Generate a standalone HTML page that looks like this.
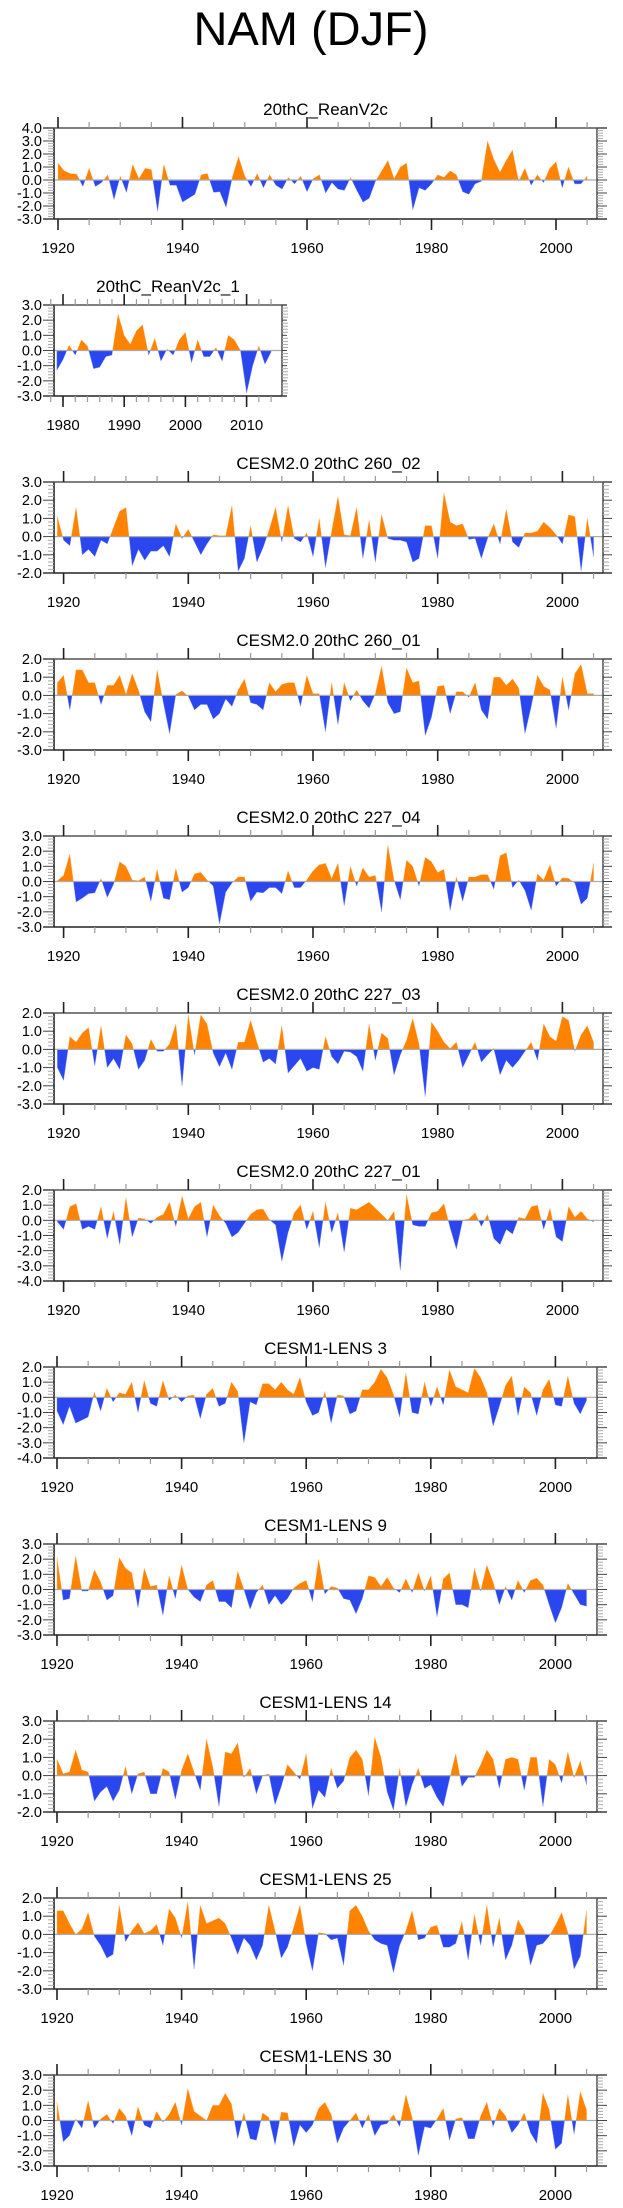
<!DOCTYPE html>
<html><head><meta charset="utf-8">
<style>
html,body{margin:0;padding:0;background:#fff;}
svg{display:block;font-family:"Liberation Sans",Arial,sans-serif;}
</style></head>
<body>
<svg id="chart" width="623" height="2208" viewBox="0 0 623 2208" xmlns="http://www.w3.org/2000/svg">
<text x="311" y="45" font-size="47" text-anchor="middle" fill="#000">NAM (DJF)</text>
</svg>
<script>
const titles = ["20thC_ReanV2c","20thC_ReanV2c_1","CESM2.0 20thC 260_02","CESM2.0 20thC 260_01","CESM2.0 20thC 227_04","CESM2.0 20thC 227_03","CESM2.0 20thC 227_01","CESM1-LENS 3","CESM1-LENS 9","CESM1-LENS 14","CESM1-LENS 25","CESM1-LENS 30"];
const startYears = [1920,1979,1919,1919,1919,1919,1919,1920,1920,1920,1920,1920];
const yMax = [4,3,3,2,3,2,2,2,3,3,2,3];
const yMin = [-3,-3,-2,-3,-3,-3,-4,-4,-3,-2,-3,-3];
const rean = [1.3,0.7,0.5,0.45,-0.5,0.9,-0.5,-0.2,0.4,-1.5,0.3,-0.95,1.2,0.1,0.9,0.8,-2.4,1.2,-0.4,-0.4,-1.7,-1.4,-1.1,0.4,0.5,-0.95,-0.9,-2.1,0.2,1.8,0.3,-0.5,0.5,-0.6,0.4,-0.4,-0.7,0.2,-0.3,0.3,-0.9,0.1,0.4,-1.0,-0.2,-0.7,-0.8,0.2,-0.8,-1.7,-1.4,-0.1,0.7,1.5,0.1,1.0,1.3,-2.3,-0.6,-0.8,-0.3,0.4,0.2,0.7,0.4,-0.9,-1.1,-0.3,-0.1,3.0,1.6,0.6,1.5,2.3,-0.1,0.9,-0.4,0.4,-0.2,0.9,1.4,-0.6,1.0,-0.3,-0.3,0.3];
const rean1 = [-1.3,-0.6,0.35,-0.3,0.7,0.3,-1.2,-1.1,-0.4,-0.3,2.4,1.0,0.4,1.3,1.7,-0.3,0.8,-0.7,0.1,-0.3,0.7,1.2,-0.8,0.7,-0.4,-0.4,0.2,-0.7,1.0,0.7,0.0,-2.8,-1.0,0.3,-0.9,-0.1];
const c260_02 = [1.1,-0.2,-0.5,1.6,-1.0,-0.7,-1.1,-0.2,-0.4,0.5,1.4,1.6,-1.6,-0.7,-1.3,-0.8,-0.8,-0.5,-1.1,0.7,-0.1,0.4,-0.3,-1.0,-0.4,0.1,0.05,0.05,1.7,-1.9,-1.2,0.6,-1.4,-0.6,0.4,1.6,-0.3,1.7,-0.1,-0.3,0.2,-1.1,1.0,-1.7,0.3,2.2,0.1,0.05,1.6,-1.2,0.9,-1.4,1.2,-0.1,-0.2,-0.2,-0.3,-1.4,-1.2,0.6,0.6,-1.2,2.4,0.8,0.6,0.7,-0.15,-0.1,-1.2,-0.1,0.7,-0.4,1.5,-0.3,-0.6,0.2,0.2,0.3,0.8,0.5,0.1,-0.4,1.2,1.1,-1.9,1.0,-1.1];
const c260_01 = [0.7,1.1,-0.8,1.4,1.4,0.7,0.7,-0.5,0.55,0.55,1.1,0.05,1.2,0.3,-0.9,-1.45,1.4,-0.4,-2.1,0.05,0.25,-0.05,-0.8,-0.5,-0.5,-1.3,-1.0,-0.2,-0.6,0.3,0.9,-0.4,-0.5,-0.8,0.7,0.2,0.6,0.7,0.7,-0.6,1.1,0.1,0.1,-2.0,0.7,-1.6,0.7,-0.3,0.3,-0.3,-0.7,0.1,1.6,-0.4,-1.0,-0.9,1.5,0.7,0.8,-2.2,-1.2,0.5,0.55,-1.0,0.2,0.2,-0.1,0.7,-0.8,-1.3,1.0,1.0,0.55,0.9,0.4,-2.1,-0.6,1.1,0.5,0.3,-1.8,1.0,-0.8,1.2,1.7,0.1,0.1];
const c227_04 = [0.05,0.4,1.8,-1.35,-1.1,-0.8,-0.75,0.2,-1.05,-0.2,1.3,1.0,0.1,0.05,0.3,-1.3,0.8,-1.1,-1.2,0.85,-0.7,-0.4,0.5,0.6,0.1,-0.3,-2.8,-0.7,-0.1,0.3,0.3,-1.3,-0.7,-0.75,-0.4,-0.4,-0.8,0.7,-0.4,-0.4,0.1,0.7,1.1,1.2,0.2,1.2,-1.6,1.0,-0.3,0.9,0.3,0.4,-2.0,2.4,0.1,-1.2,1.4,1.0,-0.3,1.6,1.3,0.6,0.8,-1.9,0.3,-1.3,0.3,0.3,0.45,0.45,-0.5,1.7,1.9,-0.4,0.1,-0.6,-1.9,0.5,0.1,1.1,-0.3,0.25,0.2,-0.1,-1.5,-1.1,1.2];
const c227_03 = [-1.0,-1.7,0.7,0.4,0.9,1.2,-0.9,1.3,-1.0,-0.5,-1.1,0.8,0.3,-1.1,-0.6,0.55,-0.1,-0.1,0.3,1.4,-2.0,1.9,-0.3,1.9,1.4,-0.2,-0.95,-0.2,-1.1,0.4,0.4,1.6,0.4,-0.7,-0.5,-0.8,1.3,-1.3,-0.9,-0.5,-1.2,-1.0,-1.1,0.7,-0.4,-0.8,-0.1,-0.15,-0.4,-1.2,1.4,-0.6,0.9,0.6,-1.4,-0.3,0.5,1.7,0.3,-2.6,1.5,1.0,0.4,0.05,0.4,-1.0,-0.3,0.4,-0.7,-0.3,0.05,-1.4,-0.6,-1.0,-0.6,-0.1,0.4,-0.6,1.4,0.7,0.45,1.8,1.6,-0.1,0.8,1.3,0.4];
const c227_01 = [-0.1,-0.6,0.9,1.1,-0.6,-0.4,-0.6,0.9,-1.2,0.6,-1.6,1.5,-1.1,0.15,0.1,-0.2,0.2,0.4,1.2,-0.4,1.6,0.1,0.9,1.2,-1.1,1.0,0.3,-0.2,-1.1,-0.8,-0.2,0.4,0.7,0.75,0.05,-0.3,-2.7,-0.8,0.5,1.0,-0.6,0.6,-1.8,1.2,-0.8,0.5,-2.1,0.8,0.7,0.95,1.2,0.8,0.4,0.0,0.6,-3.3,1.7,-0.3,-0.4,-0.4,0.5,0.6,1.1,-0.5,-1.9,0.0,0.1,0.5,-0.4,0.4,-1.2,-1.6,-0.6,-0.9,0.2,0.1,0.9,1.0,-0.6,0.8,-1.1,-1.4,0.9,0.2,0.6,0.1,-0.1];
const lens3 = [-0.9,-1.8,-0.6,-1.7,-1.5,-1.3,0.35,-0.9,0.6,-0.3,0.3,0.2,1.0,-1.0,1.1,-0.4,-0.6,1.1,-0.2,0.15,-0.3,0.1,0.15,-1.4,0.2,0.6,-0.6,-0.4,1.0,0.4,-3.0,-0.3,-0.5,0.9,0.9,0.5,1.0,0.5,0.2,1.3,-0.3,-1.2,-1.0,0.4,-1.7,0.15,0.1,-1.1,-0.9,0.5,0.5,1.0,1.85,1.3,0.2,-1.3,1.6,-1.0,-1.1,1.0,-0.6,0.7,-0.5,1.8,0.7,0.5,0.3,1.9,1.3,0.3,-1.9,-0.6,0.8,1.4,-1.2,0.7,0.3,-1.2,0.5,1.2,-0.5,-0.6,1.4,-0.4,-1.1,-0.2];
const lens9 = [2.1,-0.7,-0.6,2.2,-0.1,-0.1,1.3,0.5,-0.7,-0.4,2.1,1.4,1.1,-1.2,1.4,0.2,0.3,-1.7,0.9,-0.6,1.6,0.0,-0.5,-0.8,0.3,0.6,-0.8,-0.8,-1.2,1.2,0.0,-1.3,-0.2,0.3,-1.0,-0.4,-1.0,-0.6,0.1,0.4,0.6,-0.8,2.0,-0.3,0.2,0.1,-0.6,-0.7,-1.6,-0.6,0.9,0.8,0.2,0.8,0.1,-0.2,0.7,-0.2,1.1,-0.1,0.9,-1.8,0.7,1.1,-1.0,-1.0,-1.2,1.4,-0.1,1.6,0.5,-1.0,0.2,-0.7,0.6,-0.2,0.6,0.75,0.3,-1.0,-2.2,-1.2,0.4,-0.3,-1.0,-1.1];
const lens14 = [0.9,0.1,0.2,1.4,0.3,0.2,-1.4,-0.9,-0.6,-1.4,-0.8,0.5,-1.0,0.1,0.2,-1.0,-1.0,0.4,0.2,-1.3,0.3,1.2,0.2,-0.8,2.0,0.5,-1.7,1.3,1.2,1.8,-0.1,0.4,-1.0,0.0,0.1,-1.6,-0.6,0.6,0.2,-0.2,1.2,-1.8,-0.8,-1.2,0.4,-0.7,-0.3,1.0,1.4,0.9,-1.1,2.1,1.0,-0.9,-1.9,0.4,-1.7,-0.5,0.4,-0.7,-0.5,-1.2,-1.7,-0.2,1.2,-0.6,-0.1,-0.1,0.6,1.4,0.9,-0.7,0.9,1.0,0.9,-0.8,1.0,1.0,-1.7,0.9,0.6,-0.4,1.3,-0.1,0.8,-0.5];
const lens25 = [1.3,1.3,0.6,0.0,0.3,1.2,-0.1,-0.6,-1.3,-1.1,1.6,-0.4,0.2,0.65,0.05,0.2,0.55,-0.6,1.4,0.9,-0.2,1.8,-1.9,1.6,0.6,0.75,0.9,0.6,-0.2,-1.1,-0.2,-0.6,-1.4,-0.6,1.6,0.2,-1.3,-0.7,0.4,1.6,-0.5,-2.0,0.1,0.05,-0.3,-0.2,-1.7,1.3,1.6,1.0,0.2,-0.3,-0.5,-0.6,-2.1,-0.6,0.2,1.3,-0.3,-0.2,0.4,0.5,-0.7,-0.7,-0.5,0.7,-1.4,1.1,-0.6,1.6,-0.7,0.9,-1.4,-0.6,0.8,0.2,-1.7,-0.6,-0.5,-0.1,0.5,1.2,0.1,-1.9,-1.2,1.3];
const lens30 = [1.2,-1.4,-1.0,0.1,-0.5,1.3,-0.5,0.1,0.4,-0.2,0.8,0.3,-1.0,0.9,-0.3,-0.5,0.6,-0.1,0.4,1.2,-0.3,2.1,0.6,0.3,0.0,1.0,1.0,1.8,1.1,-1.2,0.5,-1.2,-1.3,0.5,0.2,-1.6,0.55,0.5,-1.7,-0.3,-0.8,-0.3,0.8,1.2,0.4,-1.5,-0.5,0.0,0.5,-0.5,0.4,-1.0,-0.3,-0.2,0.4,-0.4,1.7,0.2,-2.3,-0.4,-0.5,0.1,0.8,-1.3,0.1,0.2,-1.2,-1.2,0.3,1.2,-0.4,0.8,0.3,-0.8,-0.3,0.5,-0.8,-1.5,1.8,0.7,-1.9,-1.5,1.7,-0.9,1.9,0.7];
const seriesList = [rean,rean1,c260_02,c260_01,c227_04,c227_03,c227_01,lens3,lens9,lens14,lens25,lens30];

const NS = "http://www.w3.org/2000/svg";
const svg = document.getElementById("chart");
function mk(tag, attrs, parent){
  const e = document.createElementNS(NS, tag);
  for (const k in attrs) e.setAttribute(k, attrs[k]);
  (parent||svg).appendChild(e);
  return e;
}
// layout geometry per panel group (not data)
function geom(k){
  if (k===0) return {refYr:1920, refX:58, ppy:6.225, L:54, R:597, lineR:607, major:[1920,2000,20], minor:[1920,2005,5]};
  if (k===1) return {refYr:1980, refX:63, ppy:6.12, L:54, R:282, lineR:287, major:[1980,2010,10], minor:[1978,2014,2]};
  if (k<=6) return {refYr:1920, refX:63.6, ppy:6.235, L:54, R:603, lineR:612, major:[1920,2000,20], minor:[1920,2005,5]};
  return {refYr:1920, refX:57, ppy:6.23, L:54, R:597, lineR:607, major:[1920,2000,20], minor:[1920,2005,5]};
}

for (let k=0;k<12;k++){
  const g = geom(k);
  const top = 128 + 177*k, H = 91, bot = top + H;
  const vals = seriesList[k];
  const x = yr => g.refX + (yr - g.refYr)*g.ppy;
  const y = v => top + (yMax[k]-v)/(yMax[k]-yMin[k])*H;
  const grp = mk("g", {});
  
  
  // title
  const t = mk("text", {x:(g.L+g.R)/2, y:top-13, "font-size":"17", "text-anchor":"middle", fill:"#000"}, grp);
  t.textContent = titles[k];
  
  
  // build points with zero crossings
  const pts = [];
  for (let i=0;i<vals.length;i++){
    const yr = startYears[k]+i, v = vals[i];
    if (i>0){
      const pv = vals[i-1];
      if ((pv>0&&v<0)||(pv<0&&v>0)){
        const f = pv/(pv-v);
        pts.push([yr-1+f, 0]);
      }
    }
    pts.push([yr, v]);
  }
  const y0 = y(0);
  const first = x(pts[0][0]), last = x(pts[pts.length-1][0]);
  let dpos = "M"+first+","+y0, dneg = "M"+first+","+y0;
  pts.forEach(p=>{
    dpos += " L"+x(p[0]).toFixed(2)+","+y(Math.max(p[1],0)).toFixed(2);
    dneg += " L"+x(p[0]).toFixed(2)+","+y(Math.min(p[1],0)).toFixed(2);
  });
  dpos += " L"+last+","+y0+" Z"; dneg += " L"+last+","+y0+" Z";
  const ap = mk("path", {d:dpos, fill:"#ff8300", stroke:"#ffb060", "stroke-width":"0.4"}, grp);
  
  
  const an = mk("path", {d:dneg, fill:"#2a46ee", stroke:"#8090f0", "stroke-width":"0.4"}, grp);
  
  
  const zl = mk("line", {x1:g.L, x2:g.R, y1:y0, y2:y0, stroke:"#aaa", "stroke-width":"1.2"}, grp);
  
  
  // box
  mk("line", {x1:g.L, x2:g.L, y1:top, y2:bot, stroke:"#222", "stroke-width":"1.6"}, grp);
  mk("line", {x1:g.R, x2:g.R, y1:top, y2:bot, stroke:"#555", "stroke-width":"1.6"}, grp);
  mk("line", {x1:43, x2:g.lineR, y1:top, y2:top, stroke:"#555", "stroke-width":"1.6"}, grp);
  const xa = mk("line", {x1:43, x2:g.lineR, y1:bot, y2:bot, stroke:"#222", "stroke-width":"1.6"}, grp);
  
  
  // y ticks
  for (let v=yMin[k]; v<=yMax[k]+1e-6; v+=0.2){
    const yy = y(v);
    const isMaj = Math.abs(v-Math.round(v))<1e-6;
    mk("line", {x1:isMaj?43:48, x2:g.L, y1:yy, y2:yy, stroke:isMaj?"#444":"#aaa", "stroke-width":"1"}, grp);
    mk("line", {x1:g.R, x2:isMaj?g.lineR:g.R+6, y1:yy, y2:yy, stroke:isMaj?"#444":"#aaa", "stroke-width":"1"}, grp);
  }
  for (let v=yMin[k]; v<=yMax[k]; v++){
    const lb = mk("text", {x:42, y:y(v)+5, "font-size":"14.5", "text-anchor":"end", fill:"#000"}, grp);
    lb.textContent = v.toFixed(1);
    
    
  }
  // x ticks
  for (let yr=g.minor[0]; yr<=g.minor[1]; yr+=g.minor[2]){
    const xx = x(yr);
    mk("line", {x1:xx, x2:xx, y1:top, y2:top-6, stroke:"#999", "stroke-width":"1.2"}, grp);
    mk("line", {x1:xx, x2:xx, y1:bot, y2:bot+6, stroke:"#999", "stroke-width":"1.2"}, grp);
  }
  for (let yr=g.major[0]; yr<=g.major[1]; yr+=g.major[2]){
    const xx = x(yr);
    mk("line", {x1:xx, x2:xx, y1:top, y2:top-11, stroke:"#222", "stroke-width":"1.6"}, grp);
    mk("line", {x1:xx, x2:xx, y1:bot, y2:bot+11, stroke:"#222", "stroke-width":"1.6"}, grp);
    const lb = mk("text", {x:xx, y:bot+34, "font-size":"15", "text-anchor":"middle", fill:"#000"}, grp);
    lb.textContent = yr;
    
    
  }
}
</script>
</body></html>
